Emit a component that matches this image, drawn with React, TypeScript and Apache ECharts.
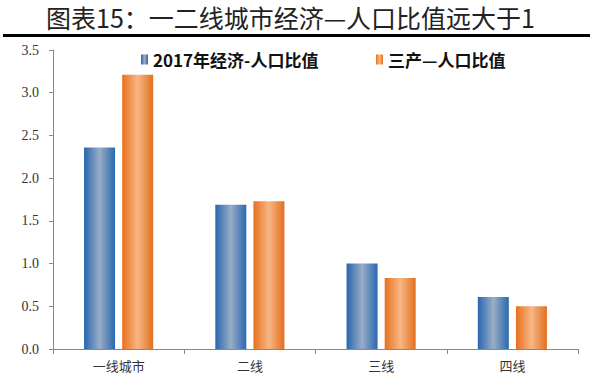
import React, { useEffect, useRef } from "react";
import * as echarts from "echarts";

const categories = ["一线城市", "二线", "三线", "四线"];
const econRatio = [2.36, 1.69, 1.0, 0.61];
const tertiaryRatio = [3.21, 1.73, 0.83, 0.5];
const seriesNames = ["2017年经济-人口比值", "三产—人口比值"];
const titleText = "图表15：一二线城市经济—人口比值远大于1";

export default function App() {
  const ref = useRef<HTMLDivElement>(null);
  useEffect(() => {
    if (!ref.current) return;
    const chart = echarts.init(ref.current, null, { renderer: "svg" });
    const blue = new echarts.graphic.LinearGradient(0, 0, 1, 0, [
      { offset: 0, color: "#2766B0" },
      { offset: 0.5, color: "#99ADC6" },
      { offset: 1, color: "#2A68B0" },
    ]);
    const orange = new echarts.graphic.LinearGradient(0, 0, 1, 0, [
      { offset: 0, color: "#E8701C" },
      { offset: 0.5, color: "#F7B686" },
      { offset: 1, color: "#E2701E" },
    ]);
    const legendText = {
      fontFamily: "'Noto Sans CJK SC', sans-serif",
      fontWeight: "bold" as const,
      fontSize: 17,
      color: "#111",
    };
    chart.setOption({
      animation: false,
      backgroundColor: "#fff",
      graphic: [
        {
          type: "text",
          left: 46,
          top: 4,
          style: {
            text: titleText,
            font: "normal 25px 'Noto Sans CJK SC', sans-serif",
            fill: "#222",
          },
        },
        {
          type: "rect",
          shape: { x: 3, y: 34, width: 587, height: 3 },
          style: { fill: "#000" },
        },
      ],
      legend: [
        {
          data: [seriesNames[0]],
          left: 136,
          top: 46,
          itemWidth: 7,
          itemHeight: 10,
          itemGap: 4,
          icon: "rect",
          textStyle: legendText,
        },
        {
          data: [seriesNames[1]],
          left: 371,
          top: 46,
          itemWidth: 7,
          itemHeight: 10,
          itemGap: 4,
          icon: "rect",
          textStyle: legendText,
        },
      ],
      grid: { left: 53, right: 30, top: 50, bottom: 33, containLabel: false },
      xAxis: {
        type: "category",
        data: categories,
        axisLine: { lineStyle: { color: "#888", width: 1 } },
        axisTick: { show: true, length: 5, lineStyle: { color: "#888" } },
        axisLabel: {
          margin: 10,
          fontFamily: "'Noto Sans CJK SC', sans-serif",
          fontSize: 13,
          color: "#333",
        },
      },
      yAxis: {
        type: "value",
        min: 0,
        max: 3.5,
        interval: 0.5,
        axisLine: { show: true, lineStyle: { color: "#888", width: 1 } },
        axisTick: { show: true, length: 4, lineStyle: { color: "#888" } },
        splitLine: { show: false },
        axisLabel: {
          margin: 14,
          fontFamily: "'Liberation Serif', serif",
          fontSize: 14,
          color: "#333",
          formatter: (v: number) => v.toFixed(1),
        },
      },
      series: [
        {
          name: seriesNames[0],
          type: "bar",
          data: econRatio,
          barWidth: 31,
          barGap: "23%",
          itemStyle: { color: blue },
        },
        {
          name: seriesNames[1],
          type: "bar",
          data: tertiaryRatio,
          barWidth: 31,
          barGap: "23%",
          itemStyle: { color: orange },
        },
      ],
    });
    return () => chart.dispose();
  }, []);
  return (
    <div
      ref={ref}
      style={{ position: "fixed", left: 0, top: 0, width: 608, height: 382 }}
    />
  );
}
